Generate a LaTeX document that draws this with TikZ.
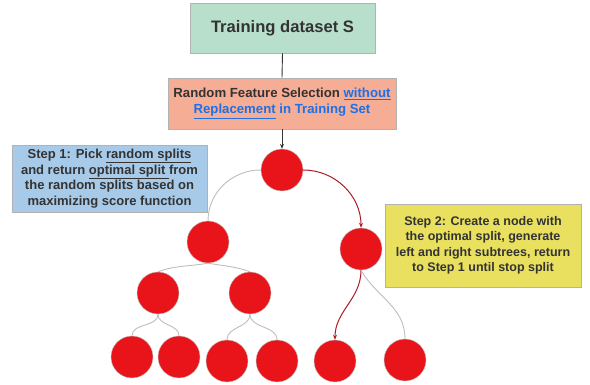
\documentclass[tikz,border=0pt]{standalone}
\usepackage{fontspec}
\setmainfont{Liberation Sans}
\usetikzlibrary{arrows.meta}

\definecolor{mint}{HTML}{B8DFCB}
\definecolor{salmon}{HTML}{F5AD95}
\definecolor{skyblue}{HTML}{A8CAE9}
\definecolor{lemon}{HTML}{E8E05E}
\definecolor{nodered}{HTML}{E8141A}
\definecolor{darkred}{HTML}{AE1C22}
\definecolor{edgegray}{HTML}{BDBDBD}
\definecolor{textgray}{HTML}{333333}
\definecolor{linkblue}{HTML}{1F6FE5}

\tikzset{
  box/.style={draw=gray!60, line width=0.6pt, text=textgray, font=\bfseries, align=center, inner sep=0pt},
  treenode/.style={circle, draw=gray!50, line width=0.4pt, fill=nodered, minimum size=42pt, inner sep=0pt},
  branch/.style={draw=edgegray, line width=0.9pt},
  chosen/.style={draw=darkred, line width=1pt, -{Stealth[length=5pt,width=4pt]}}
}

\begin{document}
\begin{tikzpicture}[x=1pt,y=-1pt]
\useasboundingbox (0,0) rectangle (590,385);

% boxes
\node[box, fill=mint, minimum width=185pt, minimum height=50pt, font=\bfseries\fontsize{16.6}{19}\selectfont] (data) at (282.5,28) {Training dataset S};
\node[box, fill=salmon, minimum width=228pt, minimum height=51pt, font=\bfseries\fontsize{13.2}{16}\selectfont] (feat) at (282,103.5)
  {Random Feature Selection \textcolor{linkblue}{\underline{without}}\\ \textcolor{linkblue}{\underline{Replacement}} \textcolor{linkblue}{in Training Set}};
\node[box, fill=skyblue, minimum width=195pt, minimum height=67pt, font=\bfseries\fontsize{13}{15.5}\selectfont] (step1) at (109.5,178.5)
  {Step 1: Pick \underline{random splits}\\ and return \underline{optimal split }from\\ the random splits based on\\ maximizing score function};
\node[box, fill=lemon, minimum width=196pt, minimum height=83pt, font=\bfseries\fontsize{12.5}{15.5}\selectfont] (step2) at (483,245.5)
  {Step 2: Create a node with\\ the optimal split, generate\\ left and right subtrees, return\\ to Step 1 until stop split};

% tree
\node[treenode] (root) at (282,170) {};
\node[treenode] (l) at (208,242) {};
\node[treenode] (r) at (361,249) {};
\node[treenode] (ll) at (158,293) {};
\node[treenode] (lr) at (250,293) {};
\node[treenode] (lll) at (132,357) {};
\node[treenode] (llr) at (179,357) {};
\node[treenode] (lrl) at (227,361) {};
\node[treenode] (lrr) at (277,361) {};
\node[treenode] (rl) at (335,361) {};
\node[treenode] (rr) at (405,360) {};

% connectors
\draw[line width=0.9pt, textgray] (data.south) -- (feat.north);
\draw[line width=0.9pt, textgray, -{Stealth[length=5pt,width=4pt]}] (feat.south -| root.north) -- (root.north);
\draw[branch] (root.west) to[out=180,in=90] (l.north);
\draw[chosen] (root.east) to[out=0,in=90] (r.north);
\draw[branch] (l.south) to[out=190,in=20] (ll.north);
\draw[branch] (l.south) to[out=-10,in=160] (lr.north);
\draw[branch] (ll.south) to[out=-90,in=90] (lll.north);
\draw[branch] (ll.south) to[out=-90,in=90] (llr.north);
\draw[branch] (lr.south) to[out=-90,in=90] (lrl.north);
\draw[branch] (lr.south) to[out=-90,in=90] (lrr.north);
\draw[chosen] (r.south) to[out=-90,in=90] (rl.north);
\draw[branch] (r.south) to[out=-60,in=90] (rr.north);
\end{tikzpicture}
\end{document}
